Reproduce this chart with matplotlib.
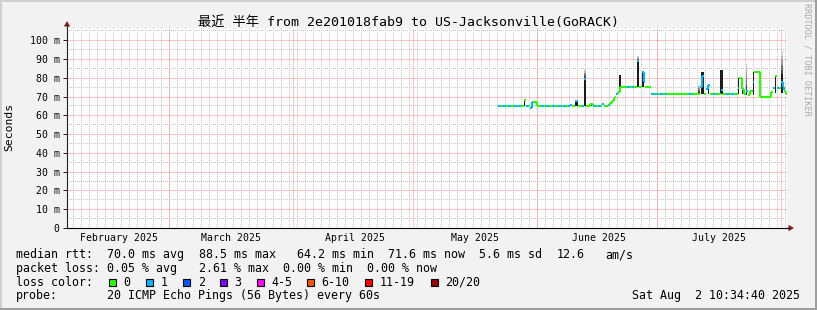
import matplotlib
matplotlib.use("Agg")
import matplotlib.pyplot as plt
import matplotlib.dates as mdates
from matplotlib.colors import to_rgba
import numpy as np
import pandas as pd
from matplotlib.collections import LineCollection
from matplotlib.patches import Rectangle, Polygon
from matplotlib.transforms import blended_transform_factory

# ---------------- data ----------------
title = "最近 半年 from 2e201018fab9 to US-Jacksonville(GoRACK)"
x_start = "2025-02-03 10:34"
x_end = "2025-08-02 10:34"
month_starts = ["2025-02-01", "2025-03-01", "2025-04-01", "2025-05-01",
                "2025-06-01", "2025-07-01", "2025-08-01"]
month_labels = ["February 2025", "March 2025", "April 2025", "May 2025",
                "June 2025", "July 2025"]
y_ticks_ms = [0, 10, 20, 30, 40, 50, 60, 70, 80, 90, 100]
y_tick_labels = ["0", "10 m", "20 m", "30 m", "40 m", "50 m", "60 m",
                 "70 m", "80 m", "90 m", "100 m"]
y_max_ms = 106.5

# median RTT, step change points ("MM-DD HH", ms)
med_time = ["05-22 06", "05-28 14", "05-28 19", "05-29 02", "05-30 02", "05-30 14",
            "06-01 00", "06-09 07", "06-09 17", "06-10 10", "06-11 05", "06-12 17",
            "06-13 05", "06-14 07", "06-14 22", "06-17 07", "06-17 17", "06-18 14",
            "06-19 07", "06-19 19", "06-20 02", "06-20 10", "06-20 19", "06-21 05",
            "06-21 14", "06-26 00", "06-26 08", "06-27 05", "06-27 14", "06-27 22",
            "06-29 12", "07-11 14", "07-12 05", "07-12 19", "07-13 07", "07-13 19",
            "07-14 05", "07-16 22", "07-17 10", "07-21 05", "07-21 12", "07-22 07",
            "07-22 14", "07-23 05", "07-23 14", "07-24 07", "07-24 22", "07-25 07",
            "07-26 17", "07-29 12", "07-29 22", "07-30 12", "07-31 00", "08-01 00",
            "08-01 10", "08-01 17", "08-02 01", "08-02 06"]
med_ms = [64.7, 66.5, 68.3, 64.7, 63.9, 67.3,
          64.7, 65.3, 64.7, 67.7, 64.7, 79.3,
          64.7, 66.0, 64.7, 66.1, 64.7, 65.6,
          66.5, 67.8, 69.0, 70.0, 71.2, 72.3,
          75.0, 89.0, 75.0, 83.3, 77.5, 75.0,
          71.3, 75.0, 81.0, 71.3, 74.0, 75.9,
          71.3, 73.3, 71.3, 74.4, 79.8, 74.0,
          71.3, 73.0, 71.0, 72.7, 77.9, 83.0,
          69.5, 72.5, 74.8, 80.9, 74.4, 78.0,
          75.0, 73.6, 72.5, 71.5]

# periods with one lost ping (of 20): start / end ("MM-DD HH")
loss1_start = ["05-22 06", "05-23 10", "05-24 19", "05-26 02", "05-27 07", "05-28 14",
               "05-29 02", "05-30 02", "06-01 22", "06-03 07", "06-04 17", "06-06 02",
               "06-07 12", "06-08 19", "06-09 07", "06-10 10", "06-12 02", "06-12 17",
               "06-15 00", "06-16 07", "06-17 07", "06-18 14", "06-20 19", "06-23 12",
               "06-24 17", "06-26 00", "06-27 05", "06-29 12", "06-30 12", "07-01 17",
               "07-02 20", "07-09 00", "07-11 14", "07-13 07", "07-15 00", "07-16 22",
               "07-18 07", "07-19 12", "07-21 05", "07-23 05", "07-24 22", "07-29 22",
               "07-31 00", "08-01 00"]
loss1_end = ["05-22 22", "05-24 04", "05-25 10", "05-26 20", "05-27 23", "05-28 19",
             "05-29 16", "05-31 00", "06-02 14", "06-03 23", "06-05 09", "06-06 20",
             "06-08 04", "06-09 03", "06-09 17", "06-11 05", "06-12 14", "06-13 05",
             "06-15 16", "06-16 22", "06-17 17", "06-19 06", "06-21 02", "06-24 04",
             "06-25 06", "06-26 08", "06-27 22", "06-30 04", "07-01 04", "07-02 08",
             "07-03 10", "07-09 14", "07-12 19", "07-14 05", "07-15 16", "07-17 10",
             "07-18 23", "07-20 04", "07-21 12", "07-23 14", "07-25 07", "07-30 12",
             "07-31 12", "08-01 20"]

# smoke (spread of the 20 pings) where it shows above the median
spike_start = ["05-28 14", "06-10 08", "06-12 17", "06-14 07", "06-21 12", "06-26 00",
               "06-27 05", "07-11 05", "07-12 00", "07-13 14", "07-16 19", "07-21 05",
               "07-22 05", "07-23 02", "07-24 22", "07-26 14", "07-30 10", "07-31 22"]
spike_end = ["05-28 22", "06-11 02", "06-13 05", "06-14 22", "06-21 21", "06-26 08",
             "06-27 14", "07-11 17", "07-12 14", "07-14 00", "07-17 10", "07-21 10",
             "07-22 12", "07-23 10", "07-25 07", "07-26 21", "07-30 19", "08-01 08"]
spike_low = [64.7, 64.7, 64.7, 64.7, 72.3, 75.0, 75.0, 71.3, 71.3, 71.3, 71.3, 71.3,
             71.3, 71.0, 71.0, 69.5, 72.0, 72.0]
spike_dense = [68.5, 67.7, 80.0, 66.2, 81.5, 88.6, 83.7, 72.5, 83.2, 76.5, 84.2, 79.8,
               79.5, 73.5, 83.0, 83.0, 81.5, 82.0]
spike_faint = [68.5, 67.7, 84.5, 66.2, 81.5, 91.5, 83.7, 76.0, 83.2, 76.5, 84.2, 79.8,
               79.5, 87.8, 83.0, 83.0, 81.5, 94.0]

loss_labels = ["0", "1", "2", "3", "4-5", "6-10", "11-19", "20/20"]
loss_colors = ["#26ff00", "#00b8ff", "#0059ff", "#7e00ff", "#ff00ff",
               "#ff5500", "#ff0000", "#a10000"]

stats_rtt = ["median rtt:", "70.0 ms avg", "88.5 ms max", "64.2 ms min",
             "71.6 ms now", "5.6 ms sd", "12.6", "am/s"]
stats_loss = ["packet loss:", "0.05 % avg", "2.61 % max", "0.00 % min", "0.00 % now"]
probe_text = ["probe:", "20 ICMP Echo Pings (56 Bytes) every 60s"]
stamp = "Sat Aug  2 10:34:40 2025"

# ---------------- helpers ----------------
def to_num(lst):
    return mdates.date2num(pd.to_datetime(["2025-" + s + ":00" for s in lst]))

MONO = ["DejaVu Sans Mono", "Noto Sans CJK SC"]
AXIS_C = "#1f1f1f"
ARROW_C = "#801f1f"
W, H = 817, 310
fig = plt.figure(figsize=(W / 100, H / 100), dpi=100, facecolor="#f2f2f2")

L, R, T, B = 67, 787, 28, 228
ax = fig.add_axes([L / W, (H - B) / H, (R - L) / W, (B - T) / H])
ax.set_facecolor("white")
x0 = mdates.date2num(pd.Timestamp(x_start))
x1 = mdates.date2num(pd.Timestamp(x_end))
ax.set_xlim(x0, x1)
ax.set_ylim(0, y_max_ms)
ms_num = mdates.date2num(pd.to_datetime(month_starts))

# minor dotted grid rendered pixel-exact (positions from the axes' own transform)
gw, gh = R - L, B - T
grid = np.zeros((gh, gw, 4))
grid_c = np.array(to_rgba("#c6c6c6"))

def row_of(v):
    yd = ax.transData.transform((x0, v))[1]
    return int(np.floor(H - yd)) - T

def col_of(t):
    xd = ax.transData.transform((t, 0))[0]
    return int(np.floor(xd)) - L

minor_v = np.arange(5, y_max_ms, 10)
minor_t = mdates.date2num(pd.date_range("2025-02-05", x_end, freq="2D"))
for v in minor_v:
    r = row_of(v)
    if 0 <= r < gh:
        grid[r, ::2] = grid_c
for t in minor_t:
    c = col_of(t)
    if 0 <= c < gw:
        grid[::2, c] = grid_c
UP = 3  # supersample so nearest-neighbour resampling keeps every dot
grid_big = grid.repeat(UP, axis=0).repeat(UP, axis=1)
ax.imshow(grid_big, extent=(x0, x1, 0, y_max_ms), aspect="auto",
          interpolation="nearest", interpolation_stage="rgba", zorder=1)
ax.set_xlim(x0, x1)
ax.set_ylim(0, y_max_ms)

# major grid (red, dotted) as ordinary lines
mkw = dict(color="#ff8c8c", lw=0.72, ls=(0, (1, 1)), zorder=1.5)
for v in y_ticks_ms[1:]:
    ax.axhline(v, **mkw)
for m in ms_num:
    if x0 < m < x1:
        ax.axvline(m, **mkw)

# smoke
ss, se = to_num(spike_start), to_num(spike_end)
for a, b, lo, de, fa in zip(ss, se, spike_low, spike_dense, spike_faint):
    ax.fill_between([a, b], lo, de, color="#1c1c1c", lw=0, zorder=2)
    if fa > de:
        shades = ["#4a4a4a", "#707070", "#949494", "#b4b4b4", "#d2d2d2"]
        edges = np.linspace(de, fa, len(shades) + 1)
        for k, sc in enumerate(shades):
            ax.fill_between([a, b], edges[k], edges[k + 1], color=sc, lw=0, zorder=2)

# median line coloured by loss
mt = to_num(med_time)
l1s, l1e = to_num(loss1_start), to_num(loss1_end)

def lost(t):
    return 1 if np.any((l1s <= t) & (t < l1e)) else 0

times = np.unique(np.concatenate([mt, l1s, l1e]))
times = times[(times >= mt[0]) & (times < x1)]
times = np.append(times, x1)
segs, cols = [], []
prev_v, prev_c = None, None
for i in range(len(times) - 1):
    t = times[i]
    v = med_ms[np.searchsorted(mt, t, side="right") - 1]
    lc = loss_colors[lost(t)]
    if prev_v is not None and prev_v != v and prev_c == lc:
        segs.append([(t, prev_v), (t, v)])
        cols.append(lc)
    segs.append([(t, v), (times[i + 1], v)])
    cols.append(lc)
    prev_v, prev_c = v, lc
ax.add_collection(LineCollection(segs, colors=cols, linewidths=1.5, zorder=3,
                                 capstyle="butt"))

# axes
for s in ["top", "right"]:
    ax.spines[s].set_visible(False)
ax.spines["left"].set_color(AXIS_C)
ax.spines["left"].set_linewidth(0.8)
ax.spines["bottom"].set_color("black")
ax.spines["bottom"].set_linewidth(0.8)
ax.set_yticks(y_ticks_ms)
ax.set_yticklabels(y_tick_labels, family=MONO, fontsize=7.1)
ax.tick_params(axis="y", length=2.9, width=0.72, color=AXIS_C, pad=2.4)
ax.set_xticks([])

# overlay in pixel coordinates
ov = fig.add_axes([0, 0, 1, 1], zorder=5)
ov.set_xlim(0, W)
ov.set_ylim(H, 0)
ov.axis("off")
ov.patch.set_alpha(0)

# month labels at mid-month
bt = blended_transform_factory(ax.transData, ov.transData)
for m, lab in zip(ms_num[:-1], month_labels):
    ov.text(m + 15.5, 241, lab, transform=bt, ha="center", va="baseline",
            family=MONO, fontsize=7.1)

# arrows
ov.plot([L, L], [T, 25], color=AXIS_C, lw=0.8)
ov.add_patch(Polygon([[L - 3.2, 26.5], [L + 3.2, 26.5], [L, 21]], closed=True,
                     color=ARROW_C, lw=0))
ov.plot([R, 789.5], [B, B], color="black", lw=0.8)
ov.add_patch(Polygon([[788.5, B - 3.2], [788.5, B + 3.2], [794, B]], closed=True,
                     color=ARROW_C, lw=0))

# title, labels
ov.text(W / 2, 25.5, title, ha="center", va="baseline", family=MONO, fontsize=9.5)
ov.text(9.5, 127, "Seconds", rotation=90, ha="center", va="center",
        family=MONO, fontsize=8.2)
ov.text(807.3, 59, "RRDTOOL / TOBI OETIKER", rotation=270, ha="center", va="center",
        family=MONO, fontsize=6.1, color="#a8a8a8")

# legend / stats (monospace columns)
fs = 8.4
cw = 7.02
row_y = [258, 271.8, 285.6, 299.4]
for col, s in zip([0, 13, 26, 40, 53, 66, 77, 84], stats_rtt):
    ov.text(16 + col * cw, row_y[0], s, va="baseline", family=MONO, fontsize=fs)
for col, s in zip([0, 13, 26, 38, 50], stats_loss):
    ov.text(16 + col * cw, row_y[1], s, va="baseline", family=MONO, fontsize=fs)
ov.text(16, row_y[2], "loss color:", va="baseline", family=MONO, fontsize=fs)
sq_x = [108.7, 146.0, 183.3, 220.0, 256.7, 306.7, 365.0, 430.7]
for x, lab, c in zip(sq_x, loss_labels, loss_colors):
    ov.add_patch(Rectangle((x, 278.5), 7, 7, facecolor=c, edgecolor="black", lw=0.8))
    ov.text(x + 14.5, row_y[2], lab, va="baseline", family=MONO, fontsize=fs)
ov.text(16, row_y[3], probe_text[0], va="baseline", family=MONO, fontsize=fs)
ov.text(16 + 13 * cw, row_y[3], probe_text[1], va="baseline", family=MONO, fontsize=fs)
ov.text(800, row_y[3], stamp, ha="right", va="baseline", family=MONO, fontsize=fs)

# 3D frame
ov.add_patch(Rectangle((0, 0), W, 2, color="#cfcfcf", lw=0))
ov.add_patch(Rectangle((0, 0), 2, H, color="#cfcfcf", lw=0))
ov.add_patch(Rectangle((0, H - 2), W, 2, color="#9e9e9e", lw=0))
ov.add_patch(Rectangle((W - 2, 0), 2, H, color="#9e9e9e", lw=0))

fig.savefig("out.png", dpi=100, facecolor=fig.get_facecolor())
